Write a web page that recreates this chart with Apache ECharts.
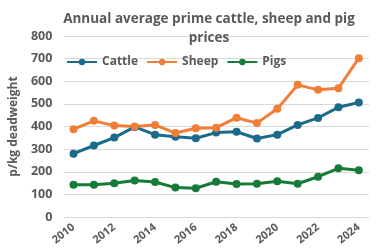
<!DOCTYPE html>
<html>
<head>
    <meta charset="UTF-8">
    <title>Prime cattle, sheep and pig prices</title>
    <script src="https://cdn.jsdelivr.net/npm/echarts@6/dist/echarts.min.js"></script>
    <style>
        body { margin: 0; background: #fff; }
        #chart { width: 392px; height: 252px; }
    </style>
</head>
<body>
<div id="chart"></div>
<script>
    // years along the x axis
    var years = ['2010','2011','2012','2013','2014','2015','2016','2017','2018','2019','2020','2021','2022','2023','2024'];
    // p/kg deadweight
    var cattle = [280, 316, 351, 398, 364, 355, 348, 373, 377, 347, 364, 407, 438, 485, 506];
    var sheep  = [388, 425, 404, 400, 407, 371, 392, 395, 439, 415, 478, 584, 562, 569, 702];
    var pigs   = [142, 143, 149, 161, 155, 130, 127, 156, 146, 147, 158, 147, 178, 215, 207];

    var grey = '#595959';
    var font = 'Open Sans';

    function line(name, data, color) {
        return {
            name: name,
            type: 'line',
            data: data,
            symbol: 'circle',
            symbolSize: 8,
            lineStyle: { width: 3, color: color },
            itemStyle: { color: color }
        };
    }

    var chart = echarts.init(document.getElementById('chart'), null, { renderer: 'canvas' });
    chart.setOption({
        animation: false,
        title: {
            text: 'Annual average prime cattle, sheep and pig\nprices',
            left: 204,
            textAlign: 'center',
            top: 5,
            textStyle: { color: grey, fontSize: 13.5, fontWeight: 'bold', fontFamily: font, lineHeight: 19 }
        },
        legend: {
            top: 51,
            left: 61,
            itemWidth: 30,
            itemHeight: 8,
            itemGap: 8,
            textStyle: { color: grey, fontSize: 12, fontWeight: 'bold', fontFamily: font },
            data: ['Cattle', 'Sheep', 'Pigs']
        },
        grid: { left: 50, right: 23, top: 36, bottom: 35 },
        xAxis: {
            type: 'category',
            data: years,
            boundaryGap: true,
            axisLine: { show: false },
            axisTick: { show: false },
            axisLabel: { interval: 1, rotate: 38, color: grey, fontSize: 11, fontWeight: 'bold', fontFamily: font, margin: 9 }
        },
        yAxis: {
            type: 'value',
            min: 0,
            max: 800,
            interval: 100,
            name: 'p/kg deadweight',
            nameLocation: 'middle',
            nameGap: 35,
            nameTextStyle: { color: grey, fontSize: 12, fontWeight: 'bold', fontFamily: font },
            axisLabel: { color: grey, fontSize: 12.5, fontWeight: 'bold', fontFamily: font, margin: 11 },
            splitLine: { lineStyle: { color: '#d9d9d9', width: 1 } }
        },
        series: [
            line('Cattle', cattle, '#1b6a8c'),
            line('Sheep', sheep, '#f27d36'),
            line('Pigs', pigs, '#167a38')
        ]
    });
</script>
</body>
</html>
